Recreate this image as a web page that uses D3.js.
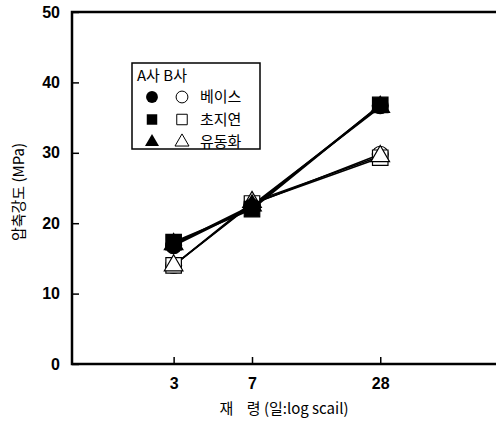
<!DOCTYPE html>
<html>
<head>
<meta charset="utf-8">
<script src="https://cdn.jsdelivr.net/npm/d3@7"></script>
<style>
  body { margin: 0; background: #fff; }
  svg { display: block; }
  .tick-label { font-family: "Liberation Sans", Arial, sans-serif; font-weight: bold; font-size: 16px; }
  .kr { font-family: "Noto Sans CJK KR", sans-serif; font-size: 14px; }
  .kr-l { font-family: "Noto Sans CJK KR", sans-serif; font-size: 15px; }
</style>
</head>
<body>
<div id="chart"></div>
<script>
var ages = [3, 7, 28];
var yTicks = [0, 10, 20, 30, 40, 50];

// A사 (filled), B사 (open)
var aBase = [16.8, 22.3, 36.7];
var aSlow = [17.3, 22.0, 36.8];
var aFlow = [17.0, 22.5, 36.5];
var bBase = [14.0, 22.7, 29.8];
var bSlow = [14.0, 22.8, 29.3];
var bFlow = [14.0, 23.0, 29.5];

var series = [
  { name: "A base", vals: aBase, shape: "circle", fill: true },
  { name: "A slow", vals: aSlow, shape: "square", fill: true },
  { name: "A flow", vals: aFlow, shape: "triangle", fill: true },
  { name: "B base", vals: bBase, shape: "circle", fill: false },
  { name: "B slow", vals: bSlow, shape: "square", fill: false },
  { name: "B flow", vals: bFlow, shape: "triangle", fill: false }
];

var legendRows = [
  { label: "베이스", shape: "circle" },
  { label: "초지연", shape: "square" },
  { label: "유동화", shape: "triangle" }
];

var W = 496, H = 423;
var mLeft = 72, mRight = 498, mTop = 12, mBottom = 364;

var svg = d3.select("#chart").append("svg")
  .attr("width", W)
  .attr("height", H);

var x = d3.scaleLog().domain([1, 100]).range([mLeft, mRight]);
var y = d3.scaleLinear().domain([0, 50]).range([mBottom, mTop]);

// frame
svg.append("rect")
  .attr("x", mLeft).attr("y", mTop)
  .attr("width", mRight - mLeft).attr("height", mBottom - mTop)
  .attr("fill", "none").attr("stroke", "#000").attr("stroke-width", 2.5);

// y axis ticks (inward)
var yAxis = d3.axisLeft(y).tickValues(yTicks).tickSize(-7).tickPadding(12);
var gy = svg.append("g").attr("transform", "translate(" + mLeft + ",0)").call(yAxis);
gy.select(".domain").remove();
gy.selectAll(".tick line").attr("stroke", "#000").attr("stroke-width", 1.5);
gy.selectAll(".tick text").attr("class", "tick-label").attr("fill", "#000");

// x axis ticks (inward)
var xAxis = d3.axisBottom(x).tickValues(ages).tickFormat(d3.format("d")).tickSize(-7).tickPadding(14);
var gx = svg.append("g").attr("transform", "translate(0," + mBottom + ")").call(xAxis);
gx.select(".domain").remove();
gx.selectAll(".tick line").attr("stroke", "#000").attr("stroke-width", 1.5);
gx.selectAll(".tick text").attr("class", "tick-label").attr("fill", "#000");

// axis titles
svg.append("text")
  .attr("class", "kr-l")
  .attr("transform", "translate(24,192) rotate(-90)")
  .attr("text-anchor", "middle")
  .text("압축강도 (MPa)");

svg.append("text")
  .attr("class", "kr-l")
  .attr("x", 284).attr("y", 414)
  .attr("text-anchor", "middle")
  .text("재\u00a0\u00a0\u00a0\u00a0령 (일:log scail)");

// lines
var line = d3.line()
  .x(function(d, i) { return x(ages[i]); })
  .y(function(d) { return y(d); });

svg.selectAll(".series-line").data(series).enter().append("path")
  .attr("class", "series-line")
  .attr("d", function(d) { return line(d.vals); })
  .attr("fill", "none")
  .attr("stroke", "#000")
  .attr("stroke-width", function(d) { return d.fill ? 2 : 1.5; });

function symbolPath(shape, size) {
  var t = shape == "circle" ? d3.symbolCircle : shape == "square" ? d3.symbolSquare : d3.symbolTriangle;
  return d3.symbol().type(t).size(size)();
}

function markerSize(shape) {
  if (shape == "circle") return 200;
  if (shape == "square") return 240;
  return 150;
}

// markers: open first, filled on top
var order = series.slice(3).concat(series.slice(0, 3));
order.forEach(function(s) {
  svg.selectAll(null).data(s.vals).enter().append("path")
    .attr("transform", function(d, i) { return "translate(" + x(ages[i]) + "," + y(d) + ")"; })
    .attr("d", symbolPath(s.shape, markerSize(s.shape)))
    .attr("fill", s.fill ? "#000" : "#fff")
    .attr("stroke", "#000")
    .attr("stroke-width", 1.2);
});

// legend
var lg = svg.append("g").attr("transform", "translate(132,63)");
lg.append("rect")
  .attr("width", 128).attr("height", 86)
  .attr("fill", "#fff").attr("stroke", "#000").attr("stroke-width", 1.5);
lg.append("text")
  .attr("class", "kr-l")
  .attr("x", 5).attr("y", 18)
  .text("A사 B사");

var rows = lg.selectAll(".lrow").data(legendRows).enter().append("g")
  .attr("class", "lrow")
  .attr("transform", function(d, i) { return "translate(0," + (34 + i * 22.5) + ")"; });

rows.append("path")
  .attr("transform", "translate(20,0)")
  .attr("d", function(d) { return symbolPath(d.shape, d.shape == "triangle" ? 85 : 110); })
  .attr("fill", "#000");
rows.append("path")
  .attr("transform", "translate(50,0)")
  .attr("d", function(d) { return symbolPath(d.shape, d.shape == "triangle" ? 85 : 110); })
  .attr("fill", "none").attr("stroke", "#000").attr("stroke-width", 1);
rows.append("text")
  .attr("class", "kr-l")
  .attr("x", 68).attr("y", 5)
  .text(function(d) { return d.label; });
</script>
</body>
</html>
